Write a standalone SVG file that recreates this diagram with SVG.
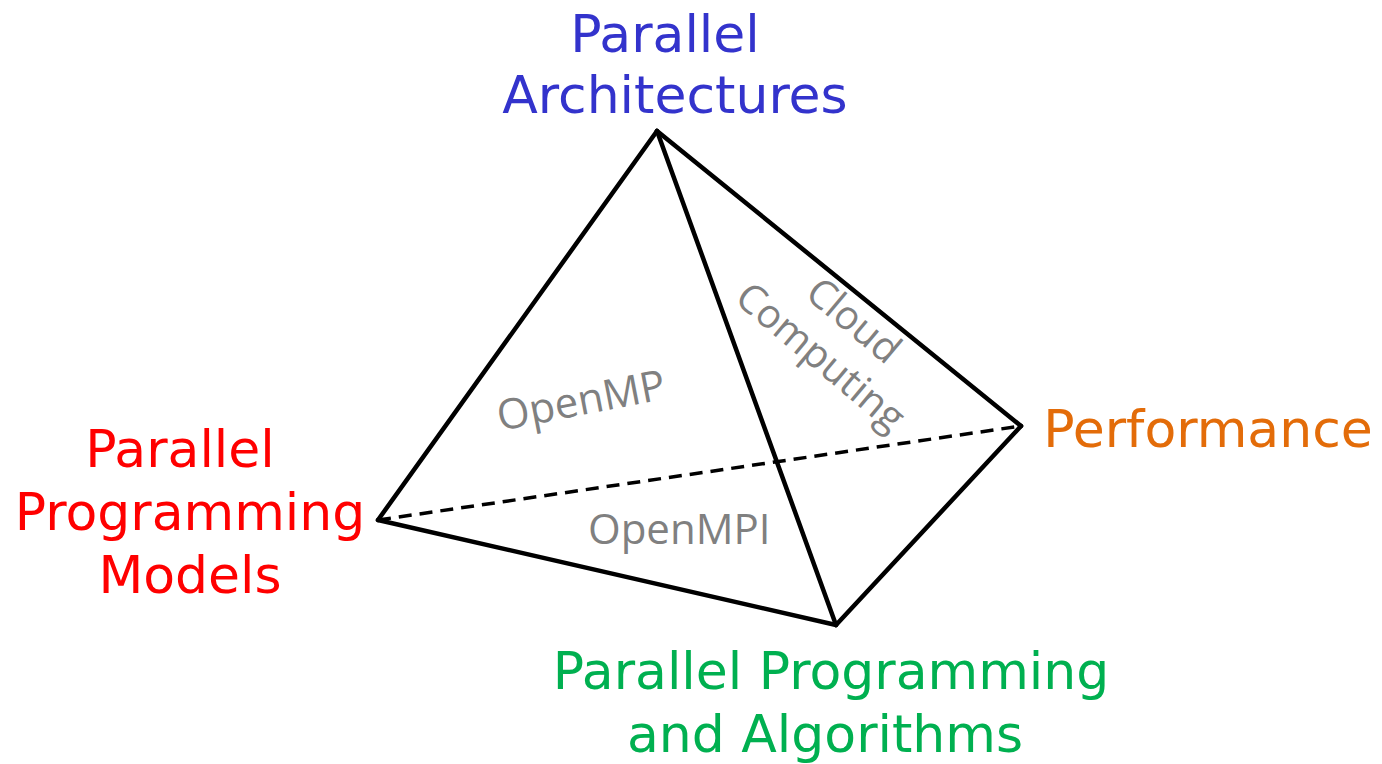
<svg xmlns="http://www.w3.org/2000/svg" width="1382" height="764" viewBox="0 0 1382 764">
<style>
.lbl{font-family:"DejaVu Sans","Verdana",sans-serif;font-size:52px;text-anchor:middle}
.sub{font-family:"Open Sans","Noto Sans",sans-serif;font-size:42px;fill:#808080}
.edge{stroke:#000;stroke-width:4.5;fill:none;stroke-linecap:round;stroke-linejoin:round}
.hidden{stroke:#000;stroke-width:3.5;fill:none;stroke-dasharray:13 8}
</style>
<rect width="1382" height="764" fill="#fff"/>
<g id="connectors">
<line class="hidden" x1="378" y1="520" x2="1021" y2="426"/>
<line class="edge" x1="657" y1="131" x2="378" y2="520"/>
<line class="edge" x1="657" y1="131" x2="836" y2="625"/>
<line class="edge" x1="657" y1="131" x2="1021" y2="426"/>
<line class="edge" x1="378" y1="520" x2="836" y2="625"/>
<line class="edge" x1="836" y1="625" x2="1021" y2="426"/>
</g>
<g id="node-architectures">
<text class="lbl" fill="#3333CC" x="665" y="52">Parallel</text>
<text class="lbl" fill="#3333CC" x="675" y="113">Architectures</text>
</g>
<g id="node-models">
<text class="lbl" fill="#FF0000" x="180" y="467">Parallel</text>
<text class="lbl" fill="#FF0000" x="190" y="530">Programming</text>
<text class="lbl" fill="#FF0000" x="190" y="593">Models</text>
</g>
<g id="node-algorithms">
<text class="lbl" fill="#00B050" x="831" y="689">Parallel Programming</text>
<text class="lbl" fill="#00B050" x="825" y="752">and Algorithms</text>
</g>
<g id="node-performance">
<text class="lbl" fill="#E36C09" x="1208" y="447">Performance</text>
</g>
<g id="face-openmp">
<text class="sub" transform="translate(500,431) rotate(-11)">OpenMP</text>
</g>
<g id="face-openmpi">
<text class="sub" x="588" y="544">OpenMPI</text>
</g>
<g id="face-cloud">
<g transform="translate(845,331) rotate(40)" font-size="40">
<text class="sub" style="font-size:40px" text-anchor="middle" x="0" y="0">Cloud</text>
<text class="sub" style="font-size:40px" text-anchor="middle" x="-2" y="49">Computing</text>
</g>
</g>
</svg>
